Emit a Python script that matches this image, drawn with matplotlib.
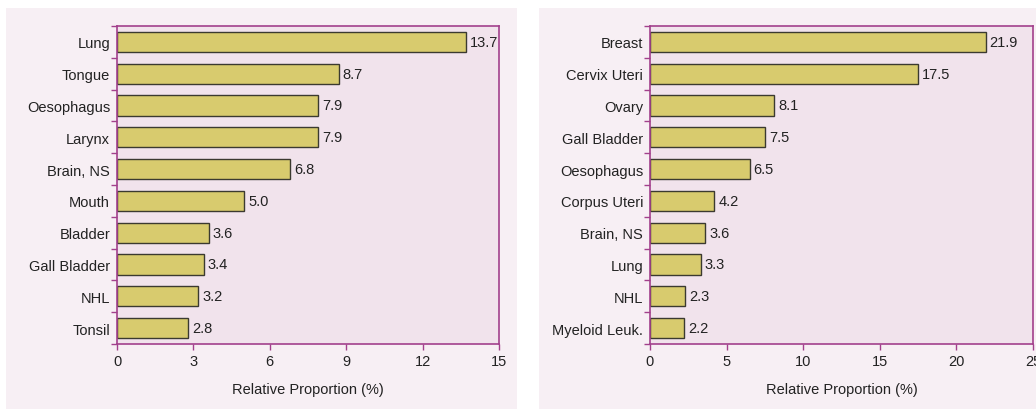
import matplotlib.pyplot as plt
from matplotlib.patches import Rectangle
import numpy as np

plt.rcParams['font.family'] = ['Liberation Sans', 'DejaVu Sans']

male_sites = ["Lung", "Tongue", "Oesophagus", "Larynx", "Brain, NS", "Mouth",
              "Bladder", "Gall Bladder", "NHL", "Tonsil"]
male_values = [13.7, 8.7, 7.9, 7.9, 6.8, 5.0, 3.6, 3.4, 3.2, 2.8]
male_ticks = [0, 3, 6, 9, 12, 15]

female_sites = ["Breast", "Cervix Uteri", "Ovary", "Gall Bladder", "Oesophagus",
                "Corpus Uteri", "Brain, NS", "Lung", "NHL", "Myeloid Leuk."]
female_values = [21.9, 17.5, 8.1, 7.5, 6.5, 4.2, 3.6, 3.3, 2.3, 2.2]
female_ticks = [0, 5, 10, 15, 20, 25]

SPINE = "#a2408c"
BAR = "#d8cb6e"
EDGE = "#3b3a30"
PANEL_BG = "#f7eff4"
AXES_BG = "#f1e3ec"
TEXT = "#222222"

W, H = 1036, 410
fig = plt.figure(figsize=(W / 100, H / 100), dpi=100)

# light panels behind each chart
for x0, x1 in [(6, 517), (539, 1036)]:
    fig.patches.append(Rectangle((x0 / W, 0), (x1 - x0) / W, 1 - 9 / H,
                                 transform=fig.transFigure, facecolor=PANEL_BG,
                                 edgecolor="none", zorder=-5))


def draw_panel(rect, sites, values, ticks):
    ax = fig.add_axes(rect)
    ax.set_facecolor(AXES_BG)
    y = np.arange(len(sites))
    bars = ax.barh(y, values, height=0.63, color=BAR, edgecolor=EDGE, linewidth=1.0)
    ax.bar_label(bars, labels=[f"{v:.1f}" for v in values], padding=3,
                 fontsize=10.5, color=TEXT)
    ax.set_ylim(len(sites) - 0.5, -0.5)
    ax.set_xlim(ticks[0], ticks[-1])
    ax.set_xticks(ticks)
    ax.set_yticks(y)
    ax.set_yticklabels(sites, fontsize=10.5, color=TEXT)
    ax.set_yticks(np.arange(-0.5, len(sites)), minor=True)
    ax.tick_params(axis="y", which="major", length=0, pad=5)
    ax.tick_params(axis="y", which="minor", length=4, width=1, color=SPINE)
    ax.tick_params(axis="x", length=4, width=1, color=SPINE, labelsize=10.5,
                   labelcolor=TEXT, pad=3)
    for s in ax.spines.values():
        s.set_color(SPINE)
        s.set_linewidth(1.2)
    ax.set_xlabel("Relative Proportion (%)", fontsize=10.5, color=TEXT, labelpad=10)
    return ax


top = 1 - 27 / H
bottom = 1 - 345 / H
draw_panel([117 / W, bottom, (499 - 117) / W, top - bottom], male_sites, male_values, male_ticks)
draw_panel([650 / W, bottom, (1033 - 650) / W, top - bottom], female_sites, female_values, female_ticks)

fig.savefig("out.png", dpi=100, facecolor="white")
